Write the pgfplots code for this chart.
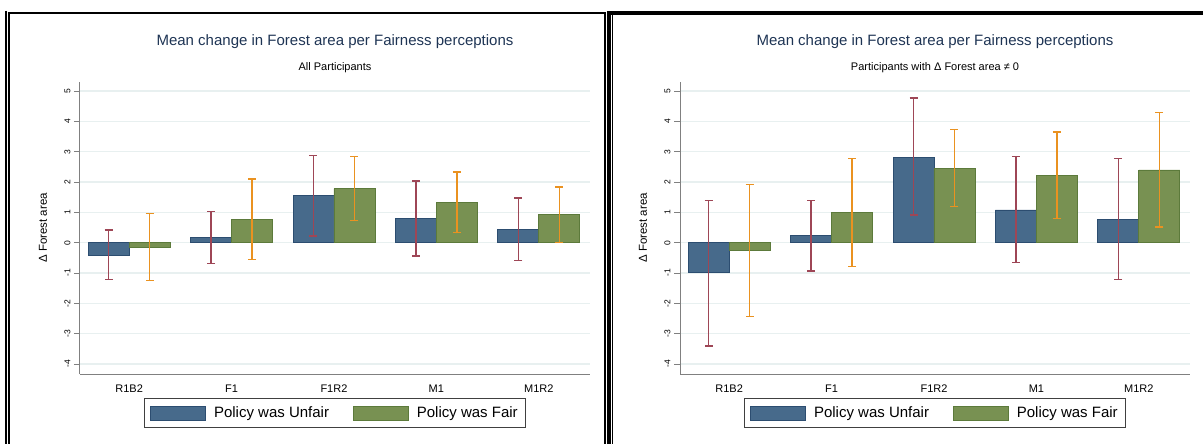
\documentclass[border=0pt]{standalone}
\usepackage{fontspec}
\setmainfont{Liberation Sans}
\usepackage{pgfplots}
\pgfplotsset{compat=1.18}

\definecolor{ufill}{RGB}{71,106,139}
\definecolor{uedge}{RGB}{44,77,112}
\definecolor{ffill}{RGB}{120,145,82}
\definecolor{fedge}{RGB}{92,122,59}
\definecolor{uerr}{RGB}{158,70,86}
\definecolor{ferr}{RGB}{234,146,32}
\definecolor{gridc}{RGB}{232,240,240}
\definecolor{axc}{RGB}{128,128,128}
\definecolor{titc}{RGB}{30,52,84}

\pgfplotsset{
 panel/.style={
  scale only axis, width=510pt, height=292pt,
  xmin=-0.48, xmax=4.5, ymin=-4.33, ymax=5.3,
  axis x line*=bottom, axis y line*=left,
  axis line style={draw=axc, line width=1pt},
  xtick={0,1,2,3,4}, xticklabels={R1B2,F1,F1R2,M1,M1R2},
  x tick style={draw=none},
  xticklabel style={font=\fontsize{11}{13}\selectfont, anchor=north, yshift=-1pt},
  ytick={-4,-3,-2,-1,0,1,2,3,4,5},
  y tick style={draw=axc, line width=0.8pt},
  tick align=outside, major tick length=6pt,
  yticklabel style={font=\fontsize{8.5}{10}\selectfont, rotate=90, anchor=south},
  /pgf/number format/assume math mode=true,
  ymajorgrids, grid style={draw=gridc, line width=1.2pt},
  ylabel={Δ Forest area},
  every axis y label/.style={at={(axis description cs:0,0.5)}, xshift=-37pt, rotate=90, anchor=center, font=\fontsize{11.5}{13}\selectfont},
  title style={at={(axis description cs:0.5,1)}, anchor=center, yshift=34pt, font=\fontsize{15}{17}\selectfont, text=titc},
  clip=false,
  legend style={at={(axis description cs:0.5,-0.1336)}, anchor=center, draw=black!75, line width=0.8pt,
    font=\fontsize{15}{17}\selectfont, inner xsep=6pt, inner ysep=6pt,
    /tikz/every odd column/.append style={column sep=6pt},
    /tikz/every even column/.append style={column sep=22pt}},
  legend columns=2,
 },
 ubar/.style={ybar, bar width=0.4, bar shift=0pt, fill=ufill, draw=uedge, line width=0.8pt, forget plot,
   error bars/.cd, y dir=both, y explicit,
   error bar style={draw=uerr, line width=1.4pt},
   error mark options={draw=uerr, line width=1.4pt, mark size=4pt, rotate=90}},
 fbar/.style={ybar, bar width=0.4, bar shift=0pt, fill=ffill, draw=fedge, line width=0.8pt, forget plot,
   error bars/.cd, y dir=both, y explicit,
   error bar style={draw=ferr, line width=1.4pt},
   error mark options={draw=ferr, line width=1.4pt, mark size=4pt, rotate=90}},
}

\begin{document}
\begin{tikzpicture}
\path[use as bounding box] (0pt,0pt) rectangle (1203pt,-444pt);

% frames
\draw[black, line width=1.2pt] (6pt,-11pt) -- (6pt,-444pt);
\draw[black, line width=2pt] (9pt,-444pt) -- (9pt,-13pt) -- (605pt,-13pt) -- (605pt,-444pt);
\draw[black, line width=4pt] (609pt,-444pt) -- (609pt,-13pt) -- (1203pt,-13pt);
\draw[black, line width=1pt] (612.5pt,-15pt) -- (612.5pt,-444pt);

% left panel
\begin{axis}[panel, at={(80pt,-374pt)}, anchor=south west,
  title={Mean change in Forest area per Fairness perceptions}]
\addplot[ubar] coordinates {
 (-0.2,-0.41) += (0,0.83) -= (0,0.80)
 (0.8,0.18)  += (0,0.85) -= (0,0.86)
 (1.8,1.55)  += (0,1.33) -= (0,1.33)
 (2.8,0.79)  += (0,1.25) -= (0,1.23)
 (3.8,0.44)  += (0,1.03) -= (0,1.03)
};
\addplot[fbar] coordinates {
 (0.2,-0.14) += (0,1.11) -= (0,1.11)
 (1.2,0.76)  += (0,1.34) -= (0,1.32)
 (2.2,1.78)  += (0,1.06) -= (0,1.04)
 (3.2,1.33)  += (0,1.00) -= (0,0.99)
 (4.2,0.92)  += (0,0.92) -= (0,0.91)
};
\node[font=\fontsize{11}{13}\selectfont, yshift=14pt] at (axis description cs:0.5,1) {All Participants};
\addlegendimage{legend image code/.code={\draw[fill=ufill, draw=uedge, line width=0.8pt] (0pt,-7pt) rectangle (55pt,7pt);}}
\addlegendentry{Policy was Unfair}
\addlegendimage{legend image code/.code={\draw[fill=ffill, draw=fedge, line width=0.8pt] (0pt,-7pt) rectangle (55pt,7pt);}}
\addlegendentry{Policy was Fair}
\end{axis}

% right panel
\begin{axis}[panel, at={(680pt,-374pt)}, anchor=south west,
  title={Mean change in Forest area per Fairness perceptions}]
\addplot[ubar] coordinates {
 (-0.2,-0.99) += (0,2.39) -= (0,2.41)
 (0.8,0.23)  += (0,1.17) -= (0,1.16)
 (1.8,2.81)  += (0,1.96) -= (0,1.90)
 (2.8,1.08)  += (0,1.76) -= (0,1.73)
 (3.8,0.77)  += (0,2.00) -= (0,1.99)
};
\addplot[fbar] coordinates {
 (0.2,-0.24) += (0,2.16) -= (0,2.19)
 (1.2,0.99)  += (0,1.79) -= (0,1.77)
 (2.2,2.45)  += (0,1.29) -= (0,1.26)
 (3.2,2.22)  += (0,1.43) -= (0,1.42)
 (4.2,2.40)  += (0,1.90) -= (0,1.88)
};
\node[font=\fontsize{11}{13}\selectfont, yshift=14pt] at (axis description cs:0.5,1) {Participants with Δ Forest area ≠ 0};
\addlegendimage{legend image code/.code={\draw[fill=ufill, draw=uedge, line width=0.8pt] (0pt,-7pt) rectangle (55pt,7pt);}}
\addlegendentry{Policy was Unfair}
\addlegendimage{legend image code/.code={\draw[fill=ffill, draw=fedge, line width=0.8pt] (0pt,-7pt) rectangle (55pt,7pt);}}
\addlegendentry{Policy was Fair}
\end{axis}
\end{tikzpicture}
\end{document}
